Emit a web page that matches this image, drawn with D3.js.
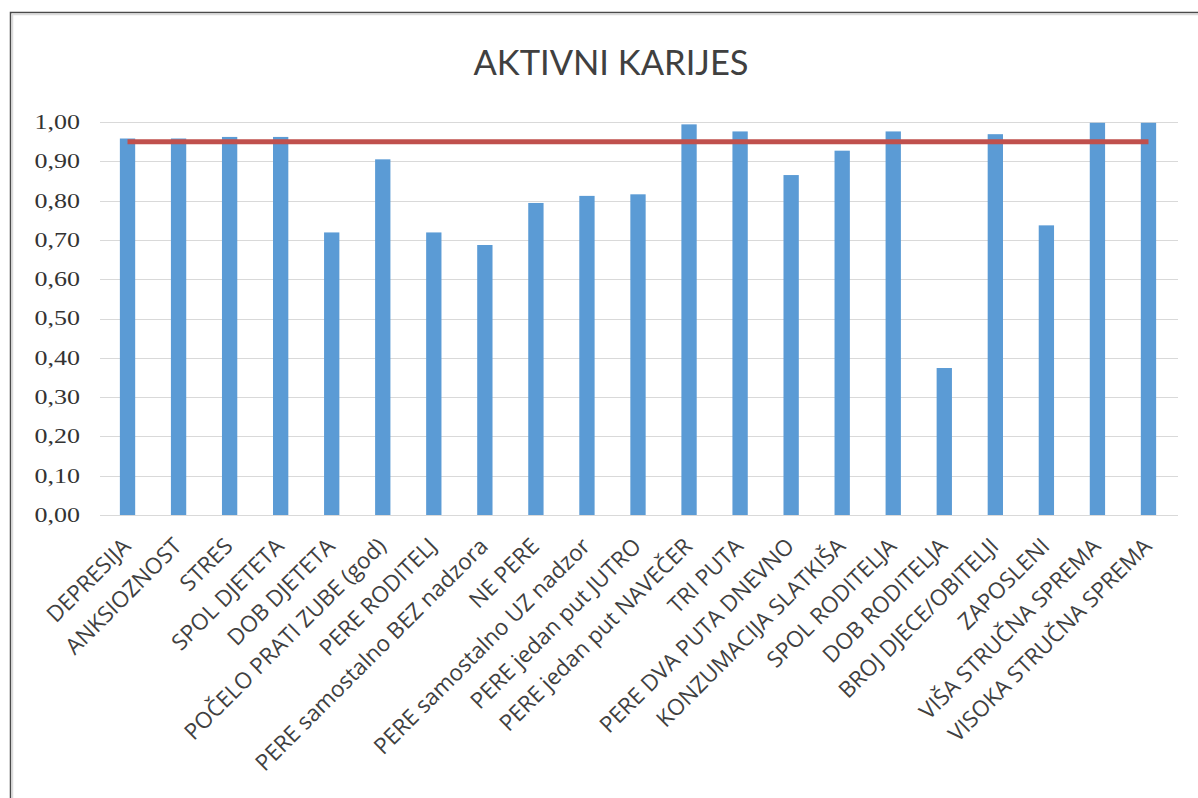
<!DOCTYPE html>
<html>
<head>
<meta charset="utf-8">
<script src="https://cdn.jsdelivr.net/npm/d3@7"></script>
<style>
  html, body { margin: 0; padding: 0; background: #fff; }
  svg { display: block; }
</style>
</head>
<body>
<svg id="chart" width="1198" height="798"></svg>
<script>
const title = "AKTIVNI KARIJES";
const categories = [
  "DEPRESIJA", "ANKSIOZNOST", "STRES", "SPOL DJETETA", "DOB DJETETA",
  "POČELO PRATI ZUBE (god)", "PERE RODITELJ", "PERE samostalno BEZ nadzora",
  "NE PERE", "PERE samostalno UZ nadzor", "PERE jedan put JUTRO",
  "PERE jedan put NAVEČER", "TRI PUTA", "PERE DVA PUTA DNEVNO",
  "KONZUMACIJA SLATKIŠA", "SPOL RODITELJA", "DOB RODITELJA",
  "BROJ DJECE/OBITELJI", "ZAPOSLENI", "VIŠA STRUČNA SPREMA", "VISOKA STRUČNA SPREMA"
];
const values = [
  0.958, 0.958, 0.962, 0.962, 0.719,
  0.905, 0.719, 0.687,
  0.794, 0.812, 0.816,
  0.994, 0.976, 0.865,
  0.927, 0.976, 0.374,
  0.969, 0.737, 0.998, 0.998
];
const thresholdValue = 0.95;
const yTicks = [0, 0.1, 0.2, 0.3, 0.4, 0.5, 0.6, 0.7, 0.8, 0.9, 1.0];

const svg = d3.select("#chart");
const W = 1198, H = 798;

// outer frame
svg.append("rect").attr("x", 10.5).attr("y", 12.5).attr("width", W + 10).attr("height", H + 10)
  .attr("fill", "#fff").attr("stroke", "#4a4a4a").attr("stroke-width", 1.5);
svg.append("rect").attr("x", 12.5).attr("y", 14.5).attr("width", W + 10).attr("height", H + 10)
  .attr("fill", "none").attr("stroke", "#dcdcdc").attr("stroke-width", 1.5);

const plot = { left: 102, right: 1174, top: 122, bottom: 515 };

const x = d3.scaleBand().domain(categories).range([plot.left, plot.right])
  .paddingInner(0.7).paddingOuter(0.35);
const y = d3.scaleLinear().domain([0, 1]).range([plot.bottom, plot.top]);

// title
svg.append("text").attr("x", 611).attr("y", 75)
  .attr("text-anchor", "middle")
  .attr("font-family", "Lato, 'Open Sans', sans-serif")
  .attr("font-size", 34.5).attr("fill", "#404040")
  .text(title);

// gridlines
svg.append("g").selectAll("line").data(yTicks).join("line")
  .attr("x1", plot.left - 2).attr("x2", plot.right + 4)
  .attr("y1", d => Math.round(y(d)) + 0.5).attr("y2", d => Math.round(y(d)) + 0.5)
  .attr("stroke", "#d9d9d9").attr("stroke-width", 1);

// y axis labels
const fmt = d => d3.format(".2f")(d).replace(".", ",");
const yAxis = d3.axisLeft(y).tickValues(yTicks).tickFormat(fmt).tickSize(0).tickPadding(0);
const gy = svg.append("g").attr("transform", `translate(80,0)`).call(yAxis);
gy.select(".domain").remove();
gy.selectAll("text")
  .attr("font-family", "'Liberation Serif', 'DejaVu Serif', serif")
  .attr("font-size", 20).attr("fill", "#333")
  .attr("transform", "scale(1.3,1)");

// bars
svg.append("g").selectAll("rect").data(values).join("rect")
  .attr("x", (d, i) => x(categories[i]))
  .attr("width", x.bandwidth())
  .attr("y", d => y(d))
  .attr("height", d => y(0) - y(d))
  .attr("fill", "#5B9BD5");

// threshold line
svg.append("line")
  .attr("x1", x(categories[0]) + x.bandwidth() / 2)
  .attr("x2", x(categories[categories.length - 1]) + x.bandwidth() / 2)
  .attr("y1", y(thresholdValue)).attr("y2", y(thresholdValue))
  .attr("stroke", "#C0504D").attr("stroke-width", 5);

// x axis labels
const xAxis = d3.axisBottom(x).tickSize(0).tickPadding(0);
const gx = svg.append("g").attr("transform", `translate(0,${plot.bottom})`).call(xAxis);
gx.select(".domain").remove();
gx.selectAll("text")
  .attr("font-family", "'Open Sans', Lato, sans-serif")
  .attr("font-size", 22.5).attr("fill", "#404040")
  .attr("text-anchor", "end")
  .attr("dy", "0.35em")
  .attr("transform", "translate(-1,27) rotate(-45)");
</script>
</body>
</html>
